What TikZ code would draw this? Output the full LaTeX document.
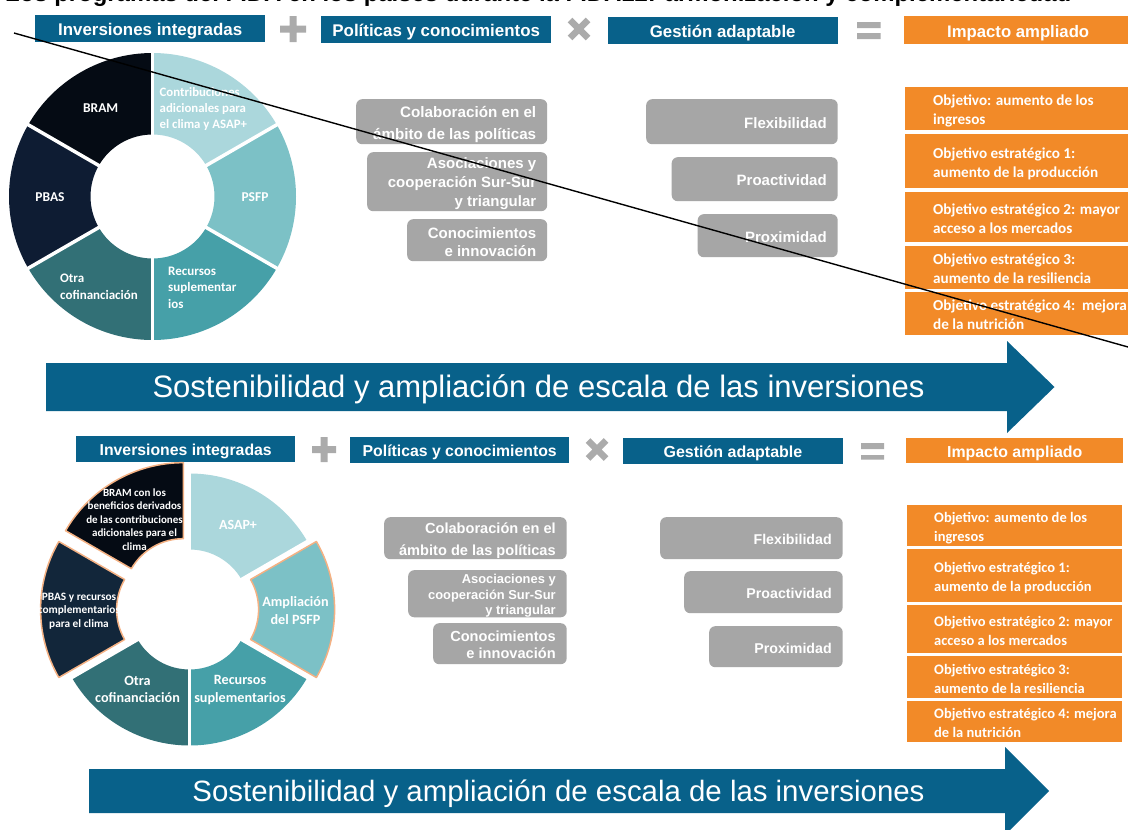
\documentclass[tikz,border=0pt]{standalone}
\usepackage{fontspec}
\setmainfont{Liberation Sans}
\newfontfamily\crl{Carlito}
\definecolor{hblue}{HTML}{08618A}
\definecolor{horange}{HTML}{F28A28}
\definecolor{hgrey}{HTML}{A6A6A6}
\definecolor{sym}{HTML}{ABABAB}
\definecolor{sA}{HTML}{ABD7DC}
\definecolor{sB}{HTML}{7CC1C6}
\definecolor{sC}{HTML}{46A0A8}
\definecolor{sD}{HTML}{327076}
\definecolor{sE}{HTML}{0E1C33}
\definecolor{sEb}{HTML}{12263A}
\definecolor{sF}{HTML}{050B14}
\definecolor{edge}{HTML}{F4B183}
\newcommand\fs[2]{\fontsize{#1}{#2}\selectfont}
\def\gbs{4}
\def\obs{4}
% name, style, x1, y1, x2, y2, text
\newcommand\bx[7]{\node[#2,anchor=north west,minimum width={(#5-#3)*1pt},minimum height={(#6-#4)*1pt}] (#1) at (#3,#4) {\vbox{\kern5pt\hbox{#7}}};}
% grey box with right-aligned text: name, font, x1,y1,x2,y2,text
\newcommand\gb[7]{\node[greybox,font=#2,anchor=north west,minimum width={(#5-#3)*1pt},minimum height={(#6-#4)*1pt}] (#1) at (#3,#4) {\parbox{\dimexpr#5pt-#3pt-22pt\relax}{\vspace*{\gbs pt}\raggedleft #7}};}
% orange box: name, x1,y1,x2,y2,line1,line2
\newcommand\ob[7]{\node[orangebox,anchor=north west,minimum width={(#4-#2)*1pt},minimum height={(#5-#3)*1pt}] (#1) at (#2,#3) {\parbox{\dimexpr#4pt-#2pt\relax}{\vspace*{\obs pt}\raggedright\makebox[0pt][l]{\hspace{#7pt}#6}\\\makebox[0pt][l]{\hspace{#7pt}\obl}}};}
\newcommand\sect[5]{\path[#1] (#2:#4pt) arc[start angle=#2,end angle=#3,radius=#4pt] -- (#3:#5pt) arc[start angle=#3,end angle=#2,radius=#5pt] -- cycle;}
\newcommand\plusmark[4]{\fill[sym] (#1-#3,#2-3.5) rectangle (#1+#3,#2+3.5) (#1-3.5,#2-#4) rectangle (#1+3.5,#2+#4);}
\newcommand\timesmark[2]{\draw[sym,line width=6.5pt] (#1-9,#2-9) -- (#1+9,#2+9) (#1-9,#2+9) -- (#1+9,#2-9);}
\tikzset{
 header/.style={fill=hblue,text=white,inner sep=0pt,font=\bfseries\fs{16.9}{20}},
 impact/.style={fill=horange,text=white,inner sep=0pt,font=\bfseries\fs{16.7}{20}},
 greybox/.style={fill=hgrey,text=white,rounded corners=6pt,inner xsep=11pt,inner ysep=0pt},
 orangebox/.style={fill=horange,text=white,inner sep=0pt,font=\crl\bfseries\fs{15.2}{19}},
 slab/.style={text=white,inner sep=0pt,align=center,font=\crl\bfseries\fs{#1}{#1}},
 slabl/.style={text=white,inner sep=0pt,align=left,anchor=west,font=\crl\bfseries\fs{13}{16.5}},
 bigarrow/.style={fill=hblue},
 bigtext/.style={text=white,inner sep=0pt},
 gap/.style={white,line width=3.5pt},
 exploded/.style={fill=#1,draw=edge,line width=1.5pt,line join=round}
}
\begin{document}
\begin{tikzpicture}[x=1pt,y=-1pt]
\useasboundingbox (0,0) rectangle (1128,830);
\clip (0,0) rectangle (1128,830);
\fill[white] (0,0) rectangle (1128,830);
\node[anchor=base west,inner sep=0pt,font=\bfseries\fs{23.9}{26}] (title) at (5,1.5) {Los programas del FIDA en los países durante la FIDA12: armonización y complementariedad};

% ---------- top panel: headers
\bx{h1}{header}{35}{15}{265}{41.5}{Inversiones integradas}
\plusmark{293}{29}{13}{13}
\bx{h2}{header}{321}{16}{551}{43}{Políticas y conocimientos}
\timesmark{579}{29}
\bx{h3}{header,font=\bfseries\fs{16.8}{20}}{607.5}{17}{837.5}{44}{Gestión adaptable}
\fill[sym] (857,22) rectangle (880.5,28) (857,33) rectangle (880.5,39);
\bx{h4}{impact}{904}{16}{1128}{44}{\hspace{4pt}Impacto ampliado}

% top wheel
\begin{scope}[shift={(152.5,196.5)}]
\sect{fill=sF}{90}{150}{143.5}{62}
\sect{fill=sA}{30}{90}{143.5}{62}
\sect{fill=sB}{-30}{30}{143.5}{62}
\sect{fill=sC}{-90}{-30}{143.5}{62}
\sect{fill=sD}{210}{270}{143.5}{62}
\sect{fill=sE}{150}{210}{143.5}{62}
\foreach \a in {90,30,-30,-90,-150,150} \draw[gap] (\a:60pt) -- (\a:145pt);
\end{scope}
\node[slab=13.5] (t1) at (100.7,108) {BRAM};
\node[slabl,font=\crl\bfseries\fs{12.8}{16}] (t2) at (159.5,109.5) {Contribuciones\\adicionales para\\el clima y ASAP+};
\node[slab=13.5] (t3) at (255,197) {PSFP};
\node[slab=13.5] (t4) at (50,197) {PBAS};
\node[slabl] (t5) at (60,287) {Otra\\cofinanciación};
\node[slabl] (t6) at (168,287.5) {Recursos\\suplementar\\ios};

% top grey boxes
\def\gbs{6}
\gb{a1}{\bfseries\fs{15.2}{22.5}}{356}{99}{547}{144}{Colaboración en el\\ámbito de las políticas}
\def\gbs{4}
\gb{a2}{\bfseries\fs{15}{19}}{367}{152}{547}{211}{Asociaciones y\\cooperación Sur-Sur\\y triangular}
\gb{a3}{\bfseries\fs{15}{18.5}}{407}{219}{547}{261}{Conocimientos\\e innovación}
\def\gbs{2.5}
\gb{b1}{\bfseries\fs{15}{18}}{646}{99}{837.5}{144}{Flexibilidad}
\gb{b2}{\bfseries\fs{15}{18}}{671.5}{157}{837.5}{201}{Proactividad}
\gb{b3}{\bfseries\fs{15}{18}}{697.5}{214}{837.5}{257}{Proximidad}

% top orange boxes
\def\obl{ingresos}\ob{c1}{905}{87}{1128}{130}{Objetivo: aumento de los}{28}
\def\obs{6}
\def\obl{aumento de la producción}\ob{c2}{905}{134}{1128}{188}{Objetivo estratégico 1:}{28}
\def\obs{4}
\def\obl{acceso a los mercados}\ob{c3}{905}{192}{1128}{242}{Objetivo estratégico 2: mayor}{28}
\def\obs{2.5}
\def\obl{aumento de la resiliencia}\ob{c4}{905}{246}{1128}{289}{Objetivo estratégico 3:}{28}
\def\obl{de la nutrición}\ob{c5}{905}{292}{1128}{335}{Objetivo estratégico 4:~~mejora}{28}

% top arrow
\fill[bigarrow] (46,363) -- (1007,363) -- (1007,341) -- (1054.5,387) -- (1007,433) -- (1007,411) -- (46,411) -- cycle;
\node[bigtext,font=\fs{31}{34}] (t7) at (538.5,389) {Sostenibilidad y ampliación de escala de las inversiones};

% ---------- bottom panel: headers
\bx{h5}{header,font=\bfseries\fs{15.8}{20}}{76}{436}{295}{462}{Inversiones integradas}
\plusmark{324}{449.5}{12}{12.5}
\bx{h6}{header,font=\bfseries\fs{15.8}{20}}{350}{437}{569}{463}{Políticas y conocimientos}
\timesmark{597}{449.5}
\bx{h7}{header,font=\bfseries\fs{16}{20}}{623}{438}{842.5}{464}{Gestión adaptable}
\fill[sym] (861,443) rectangle (884,449) (861,455) rectangle (884,459.5);
\bx{h8}{impact,font=\bfseries\fs{15.9}{20}}{906}{438}{1123}{463}{Impacto ampliado}

% bottom wheel
\begin{scope}[shift={(189.6,609.5)}]
\sect{fill=sA}{30}{90}{136}{60}
\sect{fill=sC}{-90}{-30}{136}{60}
\sect{fill=sD}{210}{270}{136}{60}
\foreach \a in {90,30,-30,-90,-150} \draw[gap] (\a:58pt) -- (\a:138pt);
\begin{scope}[shift={(120:12.5pt)}]\sect{exploded=sF}{90}{150}{136}{60}\end{scope}
\begin{scope}[shift={(180:13pt)}]\sect{exploded=sEb}{150}{210}{136}{60}\end{scope}
\begin{scope}[shift={(0:9pt)}]\sect{exploded=sB}{-30}{30}{136}{60}\end{scope}
\end{scope}
\node[slab=11,font=\crl\bfseries\fs{11}{13.5}] (u1) at (134.5,519.5) {BRAM con los\\beneficios derivados\\de las contribuciones\\adicionales para el\\clima};
\node[slab=11,font=\crl\bfseries\fs{11.3}{13.5}] (u2) at (79,611) {PBAS y recursos\\complementarios\\para el clima};
\node[slab=14] (u3) at (238,525) {ASAP+};
\node[slab=14,font=\crl\bfseries\fs{14.2}{18}] (u4) at (295.5,610.5) {Ampliación\\del PSFP};
\node[slab=14,font=\crl\bfseries\fs{14.2}{17.5}] (u5) at (137.5,689.5) {Otra\\cofinanciación};
\node[slab=14,font=\crl\bfseries\fs{14.2}{17.5}] (u6) at (240,690) {Recursos\\suplementarios};

% bottom grey boxes
\def\gbs{4}
\gb{d1}{\bfseries\fs{14.6}{22}}{384}{517}{566.5}{559}{Colaboración en el\\ámbito de las políticas}
\gb{d2}{\bfseries\fs{12.9}{15.5}}{408}{570}{566.5}{612}{Asociaciones y\\cooperación Sur-Sur\\y triangular}
\def\gbs{2.5}
\gb{d3}{\bfseries\fs{14.6}{17.5}}{433}{623}{566.5}{664}{Conocimientos\\e innovación}
\gb{e1}{\bfseries\fs{14.2}{18}}{660}{517}{842.5}{559}{Flexibilidad}
\gb{e2}{\bfseries\fs{14.2}{18}}{684}{571}{842.5}{613}{Proactividad}
\gb{e3}{\bfseries\fs{14.2}{18}}{709}{626}{842.5}{667}{Proximidad}

% bottom orange boxes
\tikzset{orangebox/.append style={font=\crl\bfseries\fs{14.5}{19}}}
\def\obs{4}
\def\obl{ingresos}\ob{f1}{907}{505}{1121.5}{546}{Objetivo: aumento de los}{27}
\def\obl{aumento de la producción}\ob{f2}{907}{549}{1121.5}{602}{Objetivo estratégico 1:}{27}
\def\obl{acceso a los mercados}\ob{f3}{907}{605}{1121.5}{653}{Objetivo estratégico 2: mayor}{27}
\def\obs{2.5}
\def\obl{aumento de la resiliencia}\ob{f4}{907}{656}{1121.5}{698}{Objetivo estratégico 3:}{27}
\def\obl{de la nutrición}\ob{f5}{907}{701}{1121.5}{742}{Objetivo estratégico 4: mejora}{27}

% bottom arrow
\fill[bigarrow] (89,769) -- (1005,769) -- (1005,747) -- (1049,791) -- (1005,835) -- (1005,813) -- (89,813) -- cycle;
\node[bigtext,font=\fs{29.4}{32}] (u7) at (558.5,794) {Sostenibilidad y ampliación de escala de las inversiones};

% stray diagonal line over the whole top panel
\coordinate (ls) at (14,33);
\coordinate (le) at (1128,347);
\draw[black,line width=1.4pt] (ls) -- (le);
\end{tikzpicture}
\end{document}
